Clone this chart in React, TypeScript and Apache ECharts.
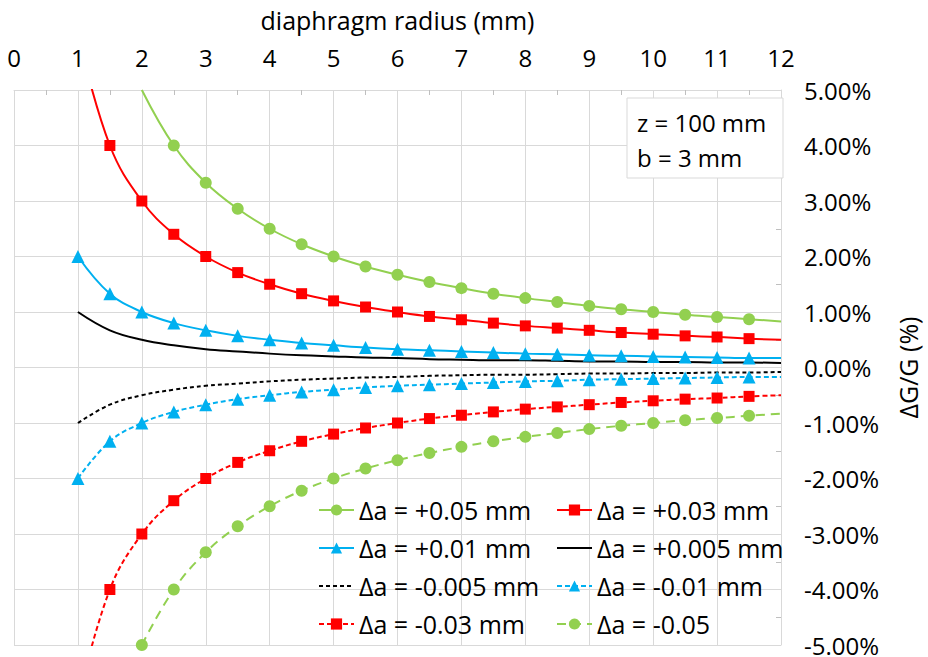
import React, { useEffect, useRef } from "react";
import * as echarts from "echarts";

// diaphragm radius (mm), sampled every 0.5 mm
const radius = [1, 1.5, 2, 2.5, 3, 3.5, 4, 4.5, 5, 5.5, 6, 6.5, 7, 7.5, 8, 8.5, 9, 9.5, 10, 10.5, 11, 11.5, 12];

// ΔG/G (%)
const plus005 = [null, null, 5.0, 4.0, 3.33, 2.86, 2.5, 2.22, 2.0, 1.82, 1.67, 1.54, 1.43, 1.33, 1.25, 1.18, 1.11, 1.05, 1.0, 0.95, 0.91, 0.87, 0.83];
const plus003 = [6.0, 4.0, 3.0, 2.4, 2.0, 1.71, 1.5, 1.33, 1.2, 1.09, 1.0, 0.92, 0.86, 0.8, 0.75, 0.71, 0.67, 0.63, 0.6, 0.57, 0.55, 0.52, 0.5];
const plus001 = [2.0, 1.33, 1.0, 0.8, 0.67, 0.57, 0.5, 0.44, 0.4, 0.36, 0.33, 0.31, 0.29, 0.27, 0.25, 0.24, 0.22, 0.21, 0.2, 0.19, 0.18, 0.17, 0.17];
const plus0005 = [1.0, 0.67, 0.5, 0.4, 0.33, 0.29, 0.25, 0.22, 0.2, 0.18, 0.17, 0.15, 0.14, 0.13, 0.13, 0.12, 0.11, 0.11, 0.1, 0.1, 0.09, 0.09, 0.08];
const minus0005 = [-1.0, -0.67, -0.5, -0.4, -0.33, -0.29, -0.25, -0.22, -0.2, -0.18, -0.17, -0.15, -0.14, -0.13, -0.13, -0.12, -0.11, -0.11, -0.1, -0.1, -0.09, -0.09, -0.08];
const minus001 = [-2.0, -1.33, -1.0, -0.8, -0.67, -0.57, -0.5, -0.44, -0.4, -0.36, -0.33, -0.31, -0.29, -0.27, -0.25, -0.24, -0.22, -0.21, -0.2, -0.19, -0.18, -0.17, -0.17];
const minus003 = [-6.0, -4.0, -3.0, -2.4, -2.0, -1.71, -1.5, -1.33, -1.2, -1.09, -1.0, -0.92, -0.86, -0.8, -0.75, -0.71, -0.67, -0.63, -0.6, -0.57, -0.55, -0.52, -0.5];
const minus005 = [null, null, -5.0, -4.0, -3.33, -2.86, -2.5, -2.22, -2.0, -1.82, -1.67, -1.54, -1.43, -1.33, -1.25, -1.18, -1.11, -1.05, -1.0, -0.95, -0.91, -0.87, -0.83];

// first / last radius that carries a marker
const markStart = { p005: 2.5, p003: 1.5, p001: 1, m001: 1, m003: 1.5, m005: 2 };
const markEnd = 11.5;

const seriesNames = [
  "Δa = +0.05 mm",
  "Δa = +0.03 mm",
  "Δa = +0.01 mm",
  "Δa = +0.005 mm",
  "Δa = -0.005 mm",
  "Δa = -0.01 mm",
  "Δa = -0.03 mm",
  "Δa = -0.05",
];

const xTicks = { min: 0, max: 12, interval: 1 };
const yTicks = { min: -5, max: 5, interval: 1 };

const FONT = "'Open Sans', sans-serif";
const GREEN = "#92D050";
const RED = "#FF0000";
const BLUE = "#00B0F0";
const BLACK = "#000000";
const GRID = "#d9d9d9";

function build(vals: (number | null)[], from: number | null) {
  const out: any[] = [];
  radius.forEach((x, i) => {
    const y = vals[i];
    if (y === null || y === undefined) return;
    const item: any = { value: [x, y] };
    if (from === null || x < from || x > markEnd) item.symbol = "none";
    out.push(item);
  });
  return out;
}

export default function App() {
  const ref = useRef<HTMLDivElement>(null);
  useEffect(() => {
    const chart = echarts.init(ref.current!, null, { renderer: "svg" });
    const mkSeries = (
      name: string,
      vals: (number | null)[],
      from: number | null,
      color: string,
      symbol: string,
      size: number,
      dash: any
    ) => ({
      name,
      type: "line",
      data: build(vals, from),
      smooth: 0.4,
      symbol,
      symbolSize: size,
      showAllSymbol: true,
      clip: true,
      lineStyle: { color, width: 2, type: dash },
      itemStyle: { color, borderWidth: 0 },
      emphasis: { disabled: true },
    });

    const series = [
      mkSeries(seriesNames[0], plus005, markStart.p005, GREEN, "circle", 12, "solid"),
      mkSeries(seriesNames[1], plus003, markStart.p003, RED, "rect", 11, "solid"),
      mkSeries(seriesNames[2], plus001, markStart.p001, BLUE, "triangle", 13, "solid"),
      mkSeries(seriesNames[3], plus0005, null, BLACK, "none", 0, "solid"),
      mkSeries(seriesNames[4], minus0005, null, BLACK, "none", 0, [4, 3]),
      mkSeries(seriesNames[5], minus001, markStart.m001, BLUE, "triangle", 13, [5, 3]),
      mkSeries(seriesNames[6], minus003, markStart.m003, RED, "rect", 11, [5, 3]),
      mkSeries(seriesNames[7], minus005, markStart.m005, GREEN, "circle", 12, [9, 6]),
    ];

    const legendBase = {
      orient: "vertical",
      top: 497,
      padding: 0,
      itemWidth: 35,
      itemHeight: 14,
      itemGap: 12,
      selectedMode: false,
      textStyle: { fontSize: 25, fontFamily: FONT, color: "#000", lineHeight: 26 },
    };
    const noMarker = (name: string) => ({ name, itemStyle: { opacity: 0, color: "transparent" } });

    chart.setOption({
      animation: false,
      textStyle: { fontFamily: FONT },
      grid: { left: 14, right: 133, top: 90, bottom: 12, containLabel: false },
      xAxis: {
        type: "value",
        position: "top",
        min: xTicks.min,
        max: xTicks.max,
        interval: xTicks.interval,
        name: "diaphragm radius (mm)",
        nameLocation: "middle",
        nameGap: 58,
        nameTextStyle: { fontSize: 25, color: "#000", fontFamily: FONT },
        axisLine: { show: true, onZero: false, lineStyle: { color: GRID, width: 1 } },
        axisTick: { show: true, inside: true, length: 5, lineStyle: { color: GRID } },
        minorTick: { show: true, splitNumber: 2, length: 5, lineStyle: { color: "#bfbfbf" } },
        splitLine: { show: true, lineStyle: { color: GRID, width: 1 } },
        axisLabel: { fontSize: 24, color: "#000", margin: 22, fontFamily: FONT, lineHeight: 22 },
      },
      yAxis: {
        type: "value",
        position: "right",
        min: yTicks.min,
        max: yTicks.max,
        interval: yTicks.interval,
        name: "ΔG/G (%)",
        nameLocation: "middle",
        nameGap: 114,
        nameRotate: 90,
        nameTextStyle: { fontSize: 25, color: "#000", fontFamily: FONT },
        axisLine: { show: true, onZero: false, lineStyle: { color: GRID, width: 1 } },
        axisTick: { show: true, inside: true, length: 5, lineStyle: { color: GRID } },
        minorTick: { show: true, splitNumber: 2, length: 5, lineStyle: { color: "#bfbfbf" } },
        splitLine: { show: true, lineStyle: { color: GRID, width: 1 } },
        axisLabel: {
          fontSize: 24,
          lineHeight: 20,
          color: "#000",
          margin: 23,
          fontFamily: FONT,
          formatter: (v: number) => (Math.abs(v) < 1e-9 ? 0 : v).toFixed(2) + "%",
        },
      },
      legend: [
        {
          ...legendBase,
          left: 318,
          data: [seriesNames[0], seriesNames[2], noMarker(seriesNames[4]), seriesNames[6]],
        },
        {
          ...legendBase,
          left: 556,
          data: [seriesNames[1], noMarker(seriesNames[3]), seriesNames[5], seriesNames[7]],
        },
      ],
      graphic: [
        {
          type: "rect",
          shape: { x: 627, y: 98, width: 156, height: 80 },
          style: { fill: "#fff", stroke: GRID, lineWidth: 1 },
          z: 10,
        },
        {
          type: "text",
          z: 11,
          style: {
            x: 637,
            y: 105,
            text: "z = 100 mm\nb = 3 mm",
            fontSize: 24,
            fontFamily: FONT,
            lineHeight: 35,
            fill: "#000",
          },
        },
      ],
      series,
    });
    return () => chart.dispose();
  }, []);
  return (
    <div
      ref={ref}
      style={{ position: "fixed", left: 0, top: 0, width: 928, height: 657, background: "#fff" }}
    />
  );
}
